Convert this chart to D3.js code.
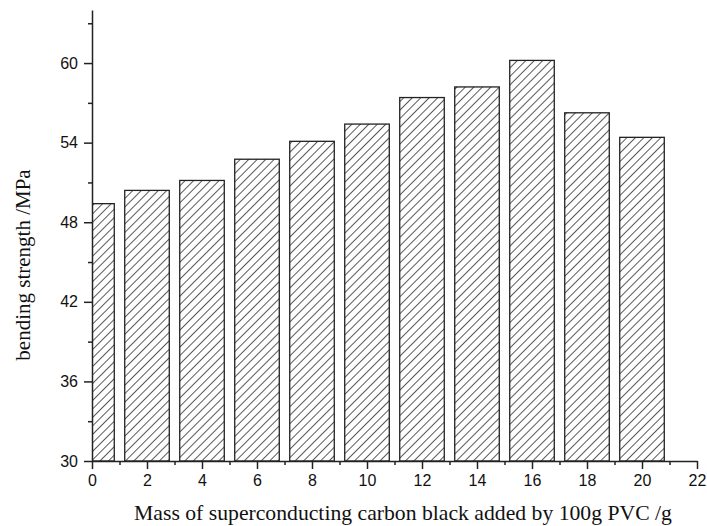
<!DOCTYPE html>
<html>
<head>
<meta charset="utf-8">
<script src="https://cdn.jsdelivr.net/npm/d3@7"></script>
<style>
  body { margin: 0; background: #fff; }
  .tick text { font-family: "Liberation Sans", Arial, sans-serif; font-size: 16px; fill: #111; }
  .axis path, .axis line { stroke: #222; stroke-width: 1.5; }
  .title { font-family: "Liberation Serif", "Times New Roman", serif; font-size: 21px; fill: #111; }
</style>
</head>
<body>
<div class="chart"></div>
<script>
// data
var carbonMass = [0, 2, 4, 6, 8, 10, 12, 14, 16, 18, 20];
var bendingStrength = [49.4, 50.4, 51.15, 52.75, 54.1, 55.4, 57.4, 58.2, 60.2, 56.25, 54.4];
var xTicks = [0, 2, 4, 6, 8, 10, 12, 14, 16, 18, 20, 22];
var yTicks = [30, 36, 42, 48, 54, 60];

var svgWidth = 707, svgHeight = 526;
var margin = { top: 10, right: 10, bottom: 65, left: 92 };
var width = svgWidth - margin.left - margin.right;
var height = svgHeight - margin.top - margin.bottom;

var svg = d3.select('.chart')
  .append('svg')
  .attr('width', svgWidth)
  .attr('height', svgHeight);

var defs = svg.append('defs');

// diagonal hatch fill
var hatch = defs.append('pattern')
  .attr('id', 'hatch')
  .attr('patternUnits', 'userSpaceOnUse')
  .attr('width', 6)
  .attr('height', 6)
  .attr('patternTransform', 'rotate(45)');
hatch.append('rect').attr('width', 6).attr('height', 6).attr('fill', '#fff');
hatch.append('line')
  .attr('x1', 0).attr('y1', 0).attr('x2', 0).attr('y2', 6)
  .attr('stroke', '#222').attr('stroke-width', 1.5);

defs.append('clipPath').attr('id', 'plotClip')
  .append('rect').attr('x', 0).attr('y', -5).attr('width', width).attr('height', height + 5);

var chart = svg.append('g')
  .attr('transform', 'translate(' + margin.left + ',' + margin.top + ')');

var xScale = d3.scaleLinear().domain([0, 22]).range([0, width]);
var yScale = d3.scaleLinear().domain([30, 64]).range([height, 0]);
var barW = xScale(1.62) - xScale(0);

// bars
chart.append('g')
  .attr('clip-path', 'url(#plotClip)')
  .selectAll('rect')
  .data(carbonMass)
  .enter()
  .append('rect')
  .attr('x', function(d) { return xScale(d) - barW / 2; })
  .attr('y', function(d, i) { return yScale(bendingStrength[i]); })
  .attr('width', barW)
  .attr('height', function(d, i) { return height - yScale(bendingStrength[i]); })
  .attr('fill', 'url(#hatch)')
  .attr('stroke', '#222')
  .attr('stroke-width', 1.3);

// minor ticks
chart.append('g')
  .attr('class', 'axis')
  .attr('transform', 'translate(0,' + height + ')')
  .call(d3.axisBottom(xScale).tickValues(d3.range(1, 22, 2)).tickSize(4).tickFormat(''))
  .select('.domain').remove();
chart.append('g')
  .attr('class', 'axis')
  .call(d3.axisLeft(yScale).tickValues(d3.range(33, 64, 6)).tickSize(4).tickFormat(''))
  .select('.domain').remove();

// major axes
chart.append('g')
  .attr('class', 'axis')
  .attr('transform', 'translate(0,' + height + ')')
  .call(d3.axisBottom(xScale).tickValues(xTicks).tickSize(8).tickSizeOuter(0).tickPadding(6));

chart.append('g')
  .attr('class', 'axis')
  .call(d3.axisLeft(yScale).tickValues(yTicks).tickSize(8).tickSizeOuter(0).tickPadding(6));

// axis titles
svg.append('text')
  .attr('class', 'title')
  .attr('transform', 'translate(30,265) rotate(-90)')
  .attr('text-anchor', 'middle')
  .text('bending strength /MPa');

svg.append('text')
  .attr('class', 'title')
  .attr('x', 403)
  .attr('y', 520)
  .attr('text-anchor', 'middle')
  .style('font-size', '21.7px')
  .text('Mass of superconducting carbon black added by 100g PVC /g');
</script>
</body>
</html>
